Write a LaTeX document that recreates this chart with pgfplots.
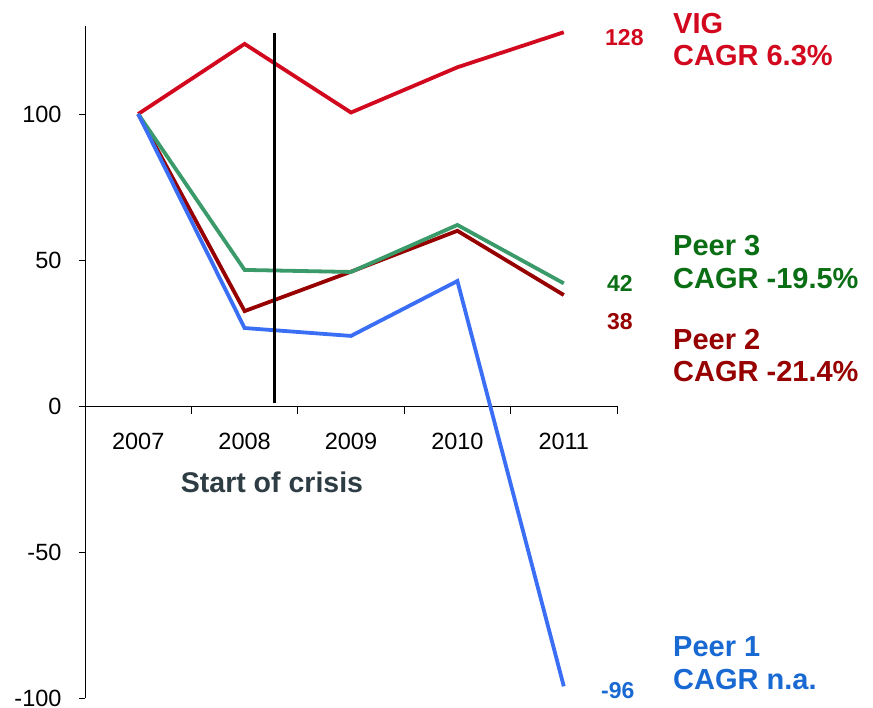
\documentclass[border=0pt]{standalone}
\usepackage{fontspec}
\setmainfont{Liberation Sans}
\usepackage{pgfplots}
\pgfplotsset{compat=1.18}
\definecolor{vigred}{RGB}{210,8,30}
\definecolor{p3text}{RGB}{10,110,20}
\definecolor{p3line}{RGB}{58,154,106}
\definecolor{p2red}{RGB}{150,0,0}
\definecolor{p1text}{RGB}{25,105,210}
\definecolor{p1line}{RGB}{58,110,245}
\definecolor{crisis}{RGB}{46,60,68}
\begin{document}
\begin{tikzpicture}[x=1pt,y=1pt]
\path[use as bounding box] (0,0) rectangle (873,707);
\begin{axis}[at={(85pt,9pt)}, anchor=south west, scale only axis,
  width=532pt, height=671.6pt,
  xmin=-0.5, xmax=4.5, ymin=-100, ymax=130,
  axis x line=middle, axis y line=left,
  axis line style={-, black, line width=0.8pt},
  xtick={0,1,2,3,4}, xticklabels={2007,2008,2009,2010,2011},
  minor xtick={-0.5,0.5,1.5,2.5,3.5,4.5},
  ytick={-100,-50,0,50,100}, yticklabels={-100,-50,0,50,100},
  tick align=outside, major tick length=6pt, minor tick length=8pt,
  major x tick style={draw=none},
  tick style={black, line width=0.8pt},
  xticklabel style={font=\fontsize{23.5}{27}\selectfont, yshift=-18pt},
  yticklabel style={font=\fontsize{23.5}{27}\selectfont, xshift=-14pt},
  clip=false,
]
\addplot[vigred, line width=3.8pt] coordinates {(0,100)(1,124)(2,100.5)(3,116)(4,128)};
\addplot[p2red, line width=3.8pt] coordinates {(0,100)(1,32.5)(2,46)(3,60)(4,38)};
\addplot[p3line, line width=3.8pt] coordinates {(0,100)(1,46.6)(2,45.9)(3,62)(4,42)};
\addplot[p1line, line width=3.8pt] coordinates {(0,100)(1,26.7)(2,24)(3,42.8)(4,-96)};
\addplot[black, line width=2.5pt] coordinates {(1.28,1)(1.28,127.7)};
\end{axis}
\begin{scope}[every node/.style={inner sep=0pt, anchor=base west}]
\node[vigred, font=\fontsize{23}{27}\selectfont\bfseries] at (605,661) {128};
\node[p3text, font=\fontsize{23}{27}\selectfont\bfseries] at (607,415) {42};
\node[p2red, font=\fontsize{23}{27}\selectfont\bfseries] at (607,377) {38};
\node[p1text, font=\fontsize{23}{27}\selectfont\bfseries] at (601,9) {-96};
\node[vigred, font=\fontsize{29}{31}\selectfont\bfseries] at (673,673) {VIG};
\node[vigred, font=\fontsize{29}{31}\selectfont\bfseries] at (673,641) {CAGR 6.3\%};
\node[p3text, font=\fontsize{29}{31}\selectfont\bfseries] at (673,451) {Peer 3};
\node[p3text, font=\fontsize{29}{31}\selectfont\bfseries] at (673,418) {CAGR -19.5\%};
\node[p2red, font=\fontsize{29}{31}\selectfont\bfseries] at (673,357) {Peer 2};
\node[p2red, font=\fontsize{29}{31}\selectfont\bfseries] at (673,325) {CAGR -21.4\%};
\node[p1text, font=\fontsize{29}{31}\selectfont\bfseries] at (673,50) {Peer 1};
\node[p1text, font=\fontsize{29}{31}\selectfont\bfseries] at (673,17) {CAGR n.a.};
\node[crisis, font=\fontsize{28.5}{32}\selectfont\bfseries, anchor=base] at (272,214) {Start of crisis};
\end{scope}
\end{tikzpicture}
\end{document}
